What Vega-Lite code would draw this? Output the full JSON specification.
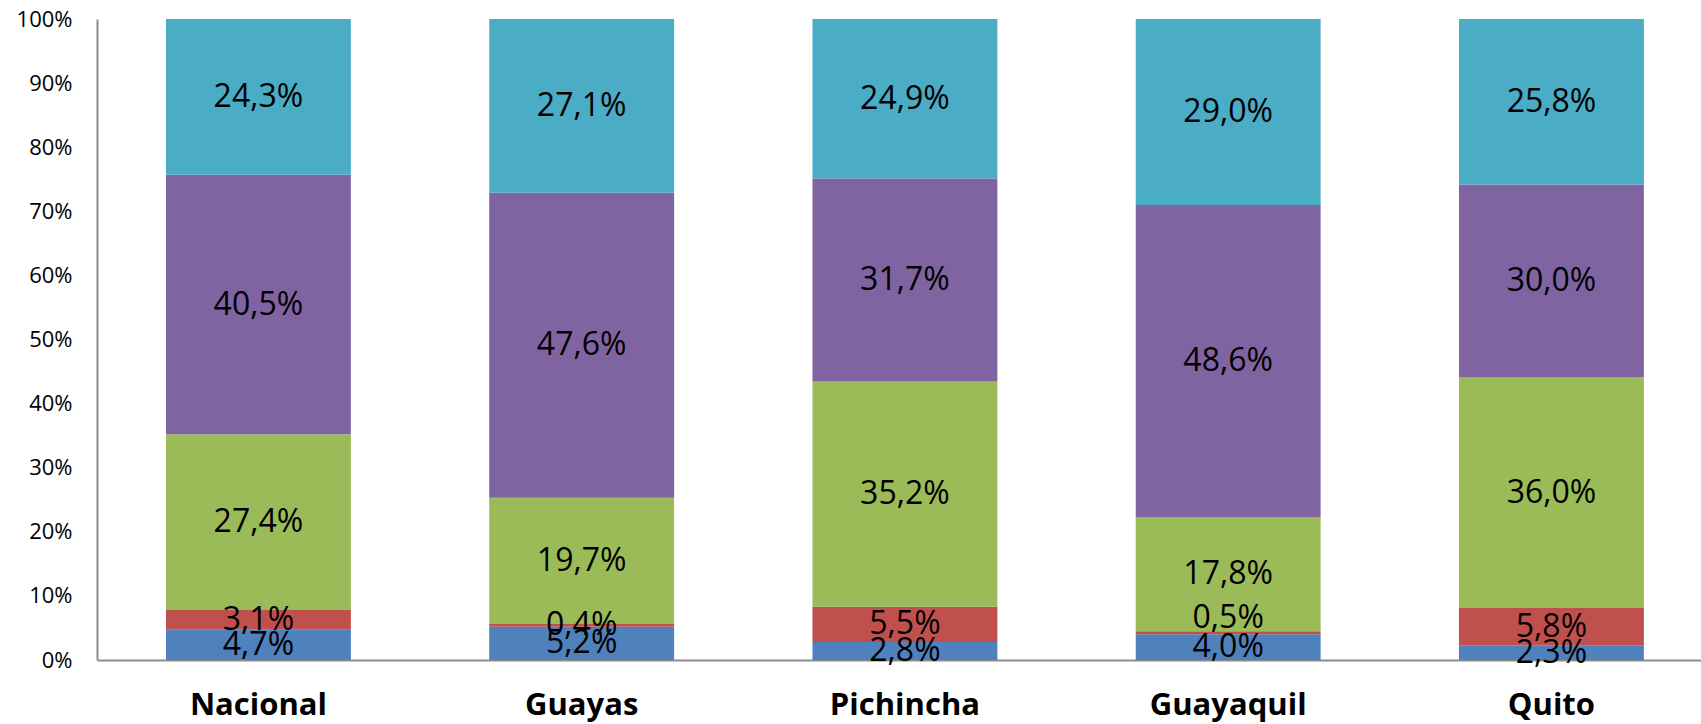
{
  "$schema": "https://vega.github.io/schema/vega-lite/v6.json",
  "autosize": {"type": "none"},
  "padding": {"left": 97, "top": 19, "right": 0, "bottom": 64},
  "width": 1604,
  "height": 641,
  "background": "white",
  "config": {
    "view": {"stroke": null},
    "locale": {"number": {"decimal": ",", "thousands": ".", "grouping": [3], "currency": ["", " €"]}},
    "font": "Open Sans"
  },
  "data": {
    "values": [
      {"region": "Nacional", "k": 1, "v": 0.047},
      {"region": "Nacional", "k": 2, "v": 0.031},
      {"region": "Nacional", "k": 3, "v": 0.274},
      {"region": "Nacional", "k": 4, "v": 0.405},
      {"region": "Nacional", "k": 5, "v": 0.243},
      {"region": "Guayas", "k": 1, "v": 0.052},
      {"region": "Guayas", "k": 2, "v": 0.004},
      {"region": "Guayas", "k": 3, "v": 0.197},
      {"region": "Guayas", "k": 4, "v": 0.476},
      {"region": "Guayas", "k": 5, "v": 0.271},
      {"region": "Pichincha", "k": 1, "v": 0.028},
      {"region": "Pichincha", "k": 2, "v": 0.055},
      {"region": "Pichincha", "k": 3, "v": 0.352},
      {"region": "Pichincha", "k": 4, "v": 0.317},
      {"region": "Pichincha", "k": 5, "v": 0.249},
      {"region": "Guayaquil", "k": 1, "v": 0.040},
      {"region": "Guayaquil", "k": 2, "v": 0.005},
      {"region": "Guayaquil", "k": 3, "v": 0.178},
      {"region": "Guayaquil", "k": 4, "v": 0.486},
      {"region": "Guayaquil", "k": 5, "v": 0.290},
      {"region": "Quito", "k": 1, "v": 0.023},
      {"region": "Quito", "k": 2, "v": 0.058},
      {"region": "Quito", "k": 3, "v": 0.360},
      {"region": "Quito", "k": 4, "v": 0.300},
      {"region": "Quito", "k": 5, "v": 0.258}
    ]
  },
  "transform": [
    {"stack": "v", "groupby": ["region"], "sort": [{"field": "k", "order": "ascending"}], "offset": "normalize", "as": ["y0", "y1"]},
    {"calculate": "(datum.y0 + datum.y1) / 2", "as": "ymid"}
  ],
  "encoding": {
    "x": {
      "field": "region", "type": "nominal", "sort": null,
      "scale": {"paddingInner": 0.428, "paddingOuter": 0.195, "align": 0.547},
      "axis": {
        "title": null, "ticks": false, "labelAngle": 0,
        "labelFontSize": 31, "labelFontWeight": "bold", "labelColor": "#000000",
        "labelPadding": 30, "domainColor": "#8c8c8c", "domainWidth": 2
      }
    }
  },
  "layer": [
    {
      "mark": {"type": "bar"},
      "encoding": {
        "y": {
          "field": "y0", "type": "quantitative",
          "scale": {"domain": [0, 1], "nice": false},
          "axis": {
            "title": null, "format": ".0%", "values": [0, 0.1, 0.2, 0.3, 0.4, 0.5, 0.6, 0.7, 0.8, 0.9, 1],
            "ticks": false, "grid": false, "labelFontSize": 22, "labelColor": "#000000",
            "labelPadding": 25, "domainColor": "#8c8c8c", "domainWidth": 2
          }
        },
        "y2": {"field": "y1"},
        "color": {
          "field": "k", "type": "nominal", "legend": null,
          "scale": {"domain": [1, 2, 3, 4, 5], "range": ["#4F81BD", "#C0504D", "#9BBB59", "#8064A2", "#4BACC6"]}
        }
      }
    },
    {
      "transform": [{"filter": "!(datum.region === 'Guayaquil' && datum.k === 2)"}],
      "mark": {"type": "text", "fontSize": 32, "color": "#000000", "baseline": "middle", "align": "center"},
      "encoding": {
        "y": {"field": "ymid", "type": "quantitative"},
        "text": {"field": "v", "type": "quantitative", "format": ".1%"}
      }
    },
    {
      "transform": [{"filter": "datum.region === 'Guayaquil' && datum.k === 2"}],
      "mark": {"type": "text", "fontSize": 32, "color": "#000000", "baseline": "middle", "align": "center", "dy": -15},
      "encoding": {
        "y": {"field": "ymid", "type": "quantitative"},
        "text": {"field": "v", "type": "quantitative", "format": ".1%"}
      }
    }
  ]
}
